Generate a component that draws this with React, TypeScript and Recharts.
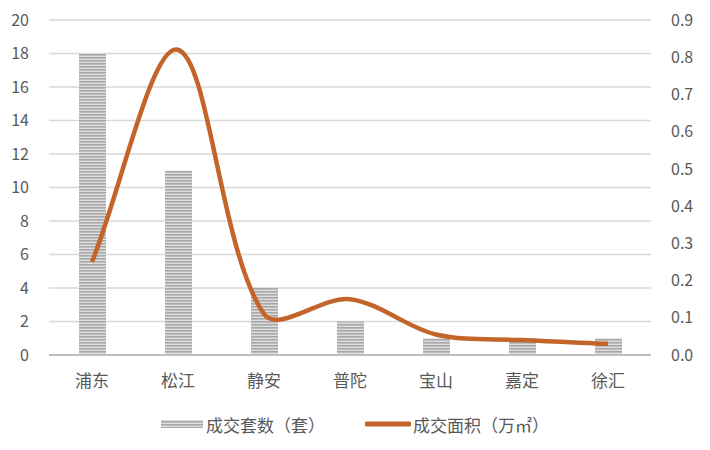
import { ComposedChart, Bar, Line, XAxis, YAxis, CartesianGrid, Legend } from 'recharts'

const districts = ['浦东', '松江', '静安', '普陀', '宝山', '嘉定', '徐汇']
const units = [18, 11, 4, 2, 1, 1, 1]
const area = [0.25, 0.82, 0.11, 0.15, 0.055, 0.04, 0.03]
const leftTicks = [0, 2, 4, 6, 8, 10, 12, 14, 16, 18, 20]
const rightTicks = [0, 0.1, 0.2, 0.3, 0.4, 0.5, 0.6, 0.7, 0.8, 0.9]

const data = districts.map((name, i) => ({ name, units: units[i], area: area[i] }))

const FONT = '"Microsoft YaHei", "Noto Sans CJK SC", sans-serif'
const TXT = '#595959'
const LINE = '#c3652a'

// excel-like smoothed line: tangent handles weighted by segment length
const smoothCurve = (ctx: any) => {
  let pts: [number, number][] = []
  const dist = (a: [number, number], b: [number, number]) => Math.hypot(b[0] - a[0], b[1] - a[1])
  return {
    areaStart() {},
    areaEnd() {},
    lineStart() {
      pts = []
    },
    point(x: number, y: number) {
      pts.push([+x, +y])
    },
    lineEnd() {
      const n = pts.length
      if (!n) return
      const inH: [number, number][] = []
      const outH: [number, number][] = []
      for (let i = 0; i < n; i++) {
        const p = pts[i]
        const prev = pts[i - 1] || p
        const next = pts[i + 1] || p
        const tx = next[0] - prev[0]
        const ty = next[1] - prev[1]
        const dIn = dist(prev, p)
        const dOut = dist(p, next)
        const sum = dIn + dOut || 1
        const k = 1 / 3
        inH.push([p[0] - tx * k * (dIn / sum), p[1] - ty * k * (dIn / sum)])
        outH.push([p[0] + tx * k * (dOut / sum), p[1] + ty * k * (dOut / sum)])
      }
      ctx.moveTo(pts[0][0], pts[0][1])
      for (let i = 0; i < n - 1; i++) {
        ctx.bezierCurveTo(outH[i][0], outH[i][1], inH[i + 1][0], inH[i + 1][1], pts[i + 1][0], pts[i + 1][1])
      }
    },
  }
}

const LegendBox = () => (
  <div style={{ display: 'flex', justifyContent: 'center', alignItems: 'center', height: 30, fontFamily: FONT, fontSize: 17, color: TXT }}>
    <svg width={42} height={12} style={{ marginRight: 3 }}>
      <rect x={0} y={2} width={42} height={8} fill="url(#stripes)" />
    </svg>
    <span style={{ marginRight: 40 }}>成交套数（套）</span>
    <svg width={46} height={12} style={{ marginRight: 2 }}>
      <line x1={2} y1={6} x2={44} y2={6} stroke={LINE} strokeWidth={5} strokeLinecap="round" />
    </svg>
    <span>成交面积（万㎡）</span>
  </div>
)

const App = () => {
  return (
    <div style={{ position: 'absolute', left: 0, top: 0, width: 710, height: 450, background: '#fff' }}>
      <ComposedChart width={710} height={450} data={data} margin={{ top: 20, right: 0, bottom: 11, left: 0 }}>
        <defs>
          <pattern id="stripes" width={4} height={3} patternUnits="userSpaceOnUse">
            <rect x={0} y={0} width={4} height={3} fill="#dedede" />
            <rect x={0} y={0} width={4} height={1.6} fill="#a8a8a8" />
          </pattern>
        </defs>
        <CartesianGrid yAxisId="left" vertical={false} stroke="#d9d9d9" strokeWidth={1.5} />
        <XAxis
          dataKey="name"
          height={54}
          tickLine={false}
          axisLine={{ stroke: '#bfbfbf', strokeWidth: 2 }}
          tick={{ fill: TXT, fontSize: 17, fontFamily: FONT }}
          tickMargin={14}
        />
        <YAxis
          yAxisId="left"
          width={49}
          domain={[0, 20]}
          ticks={leftTicks}
          axisLine={false}
          tickLine={false}
          tick={{ fill: TXT, fontSize: 16, fontFamily: FONT }}
          tickMargin={14}
        />
        <YAxis
          yAxisId="right"
          orientation="right"
          width={59}
          domain={[0, 0.9]}
          ticks={rightTicks}
          axisLine={false}
          tickLine={false}
          tick={{ fill: TXT, fontSize: 16, fontFamily: FONT }}
          tickFormatter={(v: number) => v.toFixed(1)}
          tickMargin={14}
        />
        <Legend verticalAlign="bottom" content={<LegendBox />} wrapperStyle={{ bottom: 11 }} />
        <Bar yAxisId="left" dataKey="units" name="成交套数（套）" barSize={27} fill="url(#stripes)" isAnimationActive={false} />
        <Line
          yAxisId="right"
          dataKey="area"
          name="成交面积（万㎡）"
          type={smoothCurve as any}
          stroke={LINE}
          strokeWidth={4.5}
          dot={false}
          activeDot={false}
          isAnimationActive={false}
        />
      </ComposedChart>
    </div>
  )
}

export default App
